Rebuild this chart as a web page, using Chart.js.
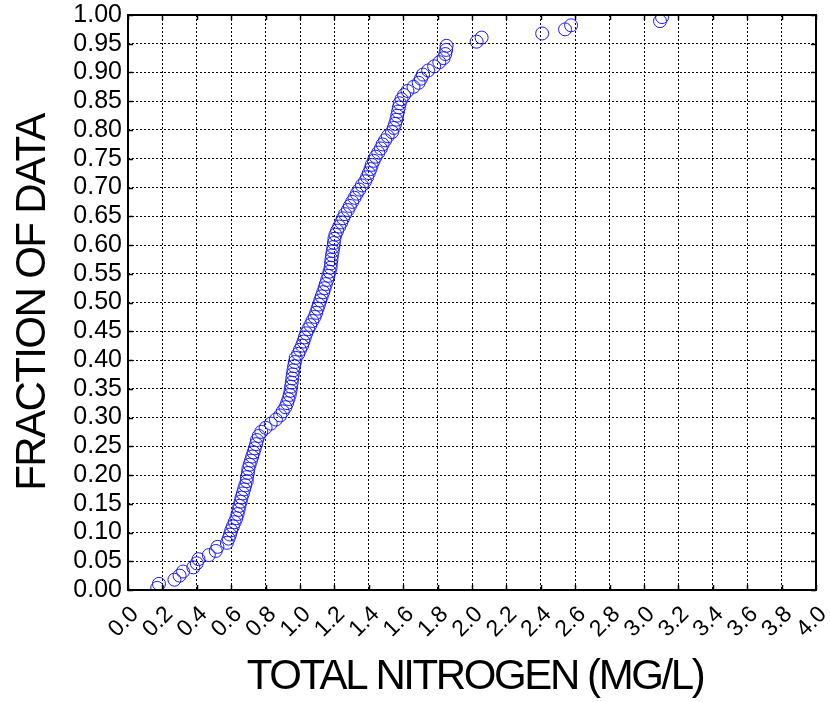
<!DOCTYPE html>
<html>
<head>
<meta charset="utf-8">
<script src="https://cdn.jsdelivr.net/npm/chart.js@4/dist/chart.umd.min.js"></script>
<style>
  html, body { margin: 0; padding: 0; background: #ffffff; }
  #wrap { width: 830px; height: 702px; position: relative; }
</style>
</head>
<body>
<div id="wrap"><canvas id="cdf" width="830" height="702"></canvas></div>
<script>
// Total nitrogen concentrations (mg/L), sorted ascending
const nitrogen = [
  0.17, 0.18, 0.27, 0.30, 0.32, 0.38, 0.40, 0.41, 0.47, 0.51,
  0.52, 0.575, 0.585, 0.593, 0.60, 0.61, 0.62, 0.63, 0.637, 0.643,
  0.648, 0.655, 0.66, 0.668, 0.675, 0.682, 0.69, 0.692, 0.697, 0.70,
  0.707, 0.715, 0.722, 0.73, 0.737, 0.745, 0.75, 0.76, 0.775, 0.80,
  0.83, 0.86, 0.885, 0.90, 0.915, 0.925, 0.933, 0.94, 0.945, 0.948,
  0.952, 0.955, 0.958, 0.962, 0.966, 0.97, 0.975, 0.99, 1.00, 1.012,
  1.02, 1.028, 1.036, 1.048, 1.06, 1.072, 1.085, 1.094, 1.102, 1.11,
  1.118, 1.126, 1.135, 1.143, 1.15, 1.158, 1.165, 1.172, 1.178, 1.18,
  1.183, 1.186, 1.19, 1.194, 1.197, 1.20, 1.206, 1.216, 1.228, 1.24,
  1.25, 1.262, 1.278, 1.29, 1.303, 1.317, 1.33, 1.345, 1.36, 1.378,
  1.39, 1.40, 1.41, 1.417, 1.428, 1.44, 1.455, 1.47, 1.48, 1.495,
  1.51, 1.535, 1.545, 1.553, 1.56, 1.565, 1.57, 1.575, 1.58, 1.59,
  1.605, 1.625, 1.66, 1.69, 1.703, 1.715, 1.745, 1.78, 1.81, 1.835,
  1.845, 1.85, 1.852, 2.027, 2.056, 2.408, 2.541, 2.576, 3.093, 3.105
];

// Cumulative fraction of samples at or below each value
const fraction = [
  0.0036, 0.0107, 0.0179, 0.0250, 0.0321, 0.0393, 0.0464, 0.0536, 0.0607, 0.0679,
  0.0750, 0.0821, 0.0893, 0.0964, 0.1036, 0.1107, 0.1179, 0.1250, 0.1321, 0.1393,
  0.1464, 0.1536, 0.1607, 0.1679, 0.1750, 0.1821, 0.1893, 0.1964, 0.2036, 0.2107,
  0.2179, 0.2250, 0.2321, 0.2393, 0.2464, 0.2536, 0.2607, 0.2679, 0.2750, 0.2821,
  0.2893, 0.2964, 0.3036, 0.3107, 0.3179, 0.3250, 0.3321, 0.3393, 0.3464, 0.3536,
  0.3607, 0.3679, 0.3750, 0.3821, 0.3893, 0.3964, 0.4036, 0.4107, 0.4179, 0.4250,
  0.4321, 0.4393, 0.4464, 0.4536, 0.4607, 0.4679, 0.4750, 0.4821, 0.4893, 0.4964,
  0.5036, 0.5107, 0.5179, 0.5250, 0.5321, 0.5393, 0.5464, 0.5536, 0.5607, 0.5679,
  0.5750, 0.5821, 0.5893, 0.5964, 0.6036, 0.6107, 0.6179, 0.6250, 0.6321, 0.6393,
  0.6464, 0.6536, 0.6607, 0.6679, 0.6750, 0.6821, 0.6893, 0.6964, 0.7036, 0.7107,
  0.7179, 0.7250, 0.7321, 0.7393, 0.7464, 0.7536, 0.7607, 0.7679, 0.7750, 0.7821,
  0.7893, 0.7964, 0.8036, 0.8107, 0.8179, 0.8250, 0.8321, 0.8393, 0.8464, 0.8536,
  0.8607, 0.8679, 0.8750, 0.8821, 0.8893, 0.8964, 0.9036, 0.9107, 0.9179, 0.9250,
  0.9321, 0.9393, 0.9464, 0.9536, 0.9607, 0.9679, 0.9750, 0.9821, 0.9893, 0.9964
];

// Axis tick values
const xTickValues = [0.0, 0.2, 0.4, 0.6, 0.8, 1.0, 1.2, 1.4, 1.6, 1.8, 2.0,
                     2.2, 2.4, 2.6, 2.8, 3.0, 3.2, 3.4, 3.6, 3.8, 4.0];
const yTickValues = [0.00, 0.05, 0.10, 0.15, 0.20, 0.25, 0.30, 0.35, 0.40, 0.45, 0.50,
                     0.55, 0.60, 0.65, 0.70, 0.75, 0.80, 0.85, 0.90, 0.95, 1.00];

const xTitle = 'TOTAL NITROGEN (MG/L)';
const yTitle = 'FRACTION OF DATA';

const FONT = '"Liberation Sans", Arial, sans-serif';

const points = nitrogen.map((v, i) => ({ x: v, y: fraction[i] }));

// Solid frame around the plot area with short inward tick marks
const framePlugin = {
  id: 'frame',
  afterDraw(chart) {
    const { ctx, chartArea: a, scales } = chart;
    ctx.save();
    ctx.setLineDash([]);
    ctx.strokeStyle = '#000';
    ctx.lineWidth = 1.5;
    const tick = 5;
    ctx.beginPath();
    xTickValues.forEach(v => {
      const px = Math.round(scales.x.getPixelForValue(v)) + 0.5;
      ctx.moveTo(px, a.bottom); ctx.lineTo(px, a.bottom - tick);
      ctx.moveTo(px, a.top); ctx.lineTo(px, a.top + tick);
    });
    yTickValues.forEach(v => {
      const py = Math.round(scales.y.getPixelForValue(v)) + 0.5;
      ctx.moveTo(a.left, py); ctx.lineTo(a.left + tick, py);
      ctx.moveTo(a.right, py); ctx.lineTo(a.right - tick, py);
    });
    ctx.stroke();
    ctx.lineWidth = 2;
    ctx.strokeRect(a.left, a.top, a.right - a.left, a.bottom - a.top);
    ctx.restore();
  }
};

// Axis titles in a tightly tracked face
const titlePlugin = {
  id: 'axisTitles',
  afterDraw(chart) {
    const { ctx, chartArea: a } = chart;
    ctx.save();
    ctx.fillStyle = '#000';
    ctx.font = '42px ' + FONT;
    ctx.textAlign = 'center';
    ctx.textBaseline = 'alphabetic';
    ctx.letterSpacing = '-2.4px';
    ctx.fillText(xTitle, (a.left + a.right) / 2 + 3, 689);
    ctx.letterSpacing = '-1.6px';
    ctx.translate(45, (a.top + a.bottom) / 2);
    ctx.rotate(-Math.PI / 2);
    ctx.fillText(yTitle, 0, 0);
    ctx.restore();
  }
};

new Chart(document.getElementById('cdf'), {
  type: 'scatter',
  data: {
    datasets: [{
      data: points,
      pointStyle: 'circle',
      pointRadius: 6.5,
      pointHoverRadius: 6.5,
      pointBorderWidth: 1,
      pointBorderColor: '#1a1aff',
      pointBackgroundColor: 'rgba(0,0,0,0)',
      showLine: false
    }]
  },
  options: {
    responsive: false,
    animation: false,
    events: [],
    layout: { padding: { top: 15, right: 14, left: 0, bottom: 0 } },
    plugins: { legend: { display: false }, tooltip: { enabled: false } },
    scales: {
      x: {
        type: 'linear',
        min: 0, max: 4,
        afterBuildTicks: s => { s.ticks = xTickValues.map(v => ({ value: v })); },
        afterFit: s => { s.height = 112; s.paddingLeft = 0; s.paddingRight = 0; },
        grid: { color: '#000', lineWidth: 1, drawTicks: false },
        border: { display: false, dash: [2, 2] },
        ticks: {
          autoSkip: false,
          minRotation: 45, maxRotation: 45,
          padding: 11,
          labelOffset: 7,
          color: '#000',
          font: { family: FONT, size: 23 },
          callback: v => Number(v).toFixed(1)
        },
        title: { display: false }
      },
      y: {
        type: 'linear',
        min: 0, max: 1,
        afterBuildTicks: s => { s.ticks = yTickValues.map(v => ({ value: v })); },
        afterFit: s => { s.width = 128; s.paddingTop = 0; s.paddingBottom = 0; },
        grid: { color: '#000', lineWidth: 1, drawTicks: false },
        border: { display: false, dash: [2, 2] },
        ticks: {
          autoSkip: false,
          padding: 6,
          color: '#000',
          font: { family: FONT, size: 25 },
          callback: v => Number(v).toFixed(2)
        },
        title: { display: false }
      }
    }
  },
  plugins: [framePlugin, titlePlugin]
});
</script>
</body>
</html>
